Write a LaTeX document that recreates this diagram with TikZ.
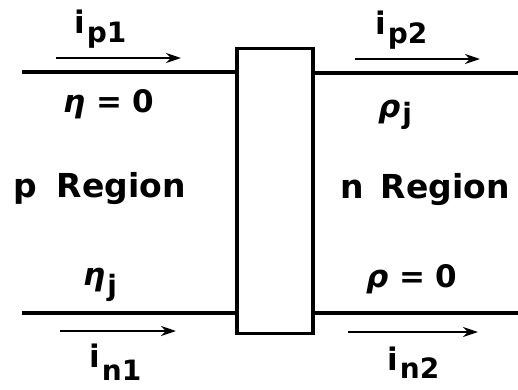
\documentclass[tikz,border=0pt]{standalone}
\usepackage{fontspec}
\setmainfont{DejaVu Sans}
\usetikzlibrary{arrows.meta,calc}
\newcommand{\lowsub}[2][10pt]{\kern2pt\raisebox{-#1}{\fontsize{28}{30}\selectfont #2}}

\begin{document}
\begin{tikzpicture}[
    x=1pt, y=-1pt,
    >={Stealth[length=15pt,width=10pt]},
    wire/.style={line width=3.2pt},
    flow/.style={->, line width=2.8pt},
    lbl/.style={anchor=base west, inner sep=0pt, font=\bfseries\fontsize{31}{34}\selectfont},
    region/.style={anchor=base west, inner sep=0pt, font=\bfseries\fontsize{33}{38}\selectfont},
    junction/.style={
        draw,
        line width=3.2pt,
        minimum width=76pt,
        minimum height=285pt,
        inner sep=0pt
    }
]
    \useasboundingbox (0,0) rectangle (518,389);

    \node[junction] (jn) at (275,191) {};

    % contacts
    \coordinate (pl) at (22,72);
    \coordinate (pr) at (518,73);
    \coordinate (nl) at (22,313);
    \coordinate (nr) at (518,313);
    \draw[wire] (pl) -- (pl -| jn.west);
    \draw[wire] (jn.east |- pr) -- (pr);
    \draw[wire] (nl) -- (nl -| jn.west);
    \draw[wire] (jn.east |- nr) -- (nr);

    % currents
    \coordinate (ip1a) at (56,58);
    \coordinate (ip1b) at (181,58);
    \coordinate (ip2a) at (355,59);
    \coordinate (ip2b) at (480,59);
    \coordinate (in1a) at (60,331);
    \coordinate (in1b) at (176,331);
    \coordinate (in2a) at (348,332);
    \coordinate (in2b) at (478,332);
    \draw[flow] (ip1a) -- (ip1b);
    \draw[flow] (ip2a) -- (ip2b);
    \draw[flow] (in1a) -- (in1b);
    \draw[flow] (in2a) -- (in2b);

    \node[lbl] (tip1) at (74,33) {i\lowsub[9pt]{p1}};
    \node[lbl] (tip2) at (375,34) {i\lowsub[9pt]{p2}};
    \node[lbl] (tin1) at (89,367) {i\lowsub[13pt]{n1}};
    \node[lbl] (tin2) at (387,370) {i\lowsub[8pt]{n2}};

    \node[lbl] (eta0) at (63,112) {\textit{η} = 0};
    \node[lbl] (rhoj) at (378,117) {\textit{ρ}\lowsub[6pt]{j}};
    \node[lbl] (etaj) at (83,285) {\textit{η}\lowsub[10pt]{j}};
    \node[lbl] (rho0) at (366,287) {\textit{ρ} = 0};

    \node[region] (preg) at (13,197) {p\hspace{20pt}Region};
    \node[region] (nreg) at (340,198) {n\hspace{17pt}Region};
\end{tikzpicture}
\end{document}
